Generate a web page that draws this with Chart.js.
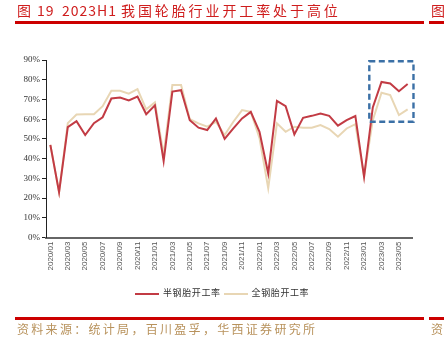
<!DOCTYPE html>
<html>
<head>
<meta charset="utf-8">
<script src="https://cdn.jsdelivr.net/npm/chart.js@4"></script>
<style>
  html, body { margin: 0; padding: 0; background: #fff; }
  #page { position: relative; width: 444px; height: 349px; overflow: hidden; font-family: "Noto Sans CJK SC", sans-serif; }
  #chart { position: absolute; left: 0; top: 0; }
  .title { position: absolute; top: 1px; color: #cf1d1d; font-size: 14px; line-height: 18px; white-space: nowrap; }
  .title span { position: absolute; top: 0; }
  .rule { position: absolute; height: 2.5px; background: #cc0000; }
  .source { position: absolute; top: 321px; color: #b8925c; font-size: 12px; line-height: 16px; letter-spacing: 2.3px; white-space: nowrap; }
  #legend { position: absolute; top: 286px; left: 135px; font-size: 9px; line-height: 14px; color: #333; white-space: nowrap; letter-spacing: 0.6px; }
  #legend span.swatch { display: inline-block; width: 24px; height: 2px; vertical-align: middle; margin-right: 4px; }
  #legend span.item { margin-right: 3px; }
</style>
</head>
<body>
<div id="page">
  <canvas id="chart" width="444" height="349"></canvas>
  <div class="title" style="left:0">
    <span style="left:17px">图</span>
    <span style="left:37px; letter-spacing:1px">19</span>
    <span style="left:62px; letter-spacing:1px">2023H1</span>
    <span style="left:121px; letter-spacing:2.9px">我国轮胎行业开工率处于高位</span>
    <span style="left:431px">图</span>
  </div>
  <div class="rule" style="left:15px; width:409px; top:21px"></div>
  <div class="rule" style="left:429px; width:20px; top:21px"></div>
  <div id="legend"></div>
  <div class="rule" style="left:15px; width:409px; top:317px"></div>
  <div class="rule" style="left:429px; width:20px; top:317px"></div>
  <div class="source" style="left:17px">资料来源：统计局，百川盈孚，华西证券研究所</div>
  <div class="source" style="left:431px">资</div>
</div>
<script>
// months, 2020/01 - 2023/06
var months = [
  '2020/01','2020/02','2020/03','2020/04','2020/05','2020/06','2020/07','2020/08','2020/09','2020/10','2020/11','2020/12',
  '2021/01','2021/02','2021/03','2021/04','2021/05','2021/06','2021/07','2021/08','2021/09','2021/10','2021/11','2021/12',
  '2022/01','2022/02','2022/03','2022/04','2022/05','2022/06','2022/07','2022/08','2022/09','2022/10','2022/11','2022/12',
  '2023/01','2023/02','2023/03','2023/04','2023/05','2023/06'
];

// 半钢胎开工率 (%)
var semiSteel = [
  47, 23, 56, 59, 52, 58, 61, 70.5, 71, 69.5, 71.5, 62.5,
  67, 38.8, 74, 74.7, 59.5, 55.7, 54.5, 60.4, 50, 55.3, 60.4, 63.7,
  53.6, 32.5, 69.3, 66.6, 52.3, 60.7, 61.7, 62.9, 61.7, 56.7, 59.5, 61.6,
  30.8, 66, 78.9, 78.1, 74.2, 77.8
];

// 全钢胎开工率 (%)
var allSteel = [
  47, 23, 58, 62.4, 62.5, 62.5, 66.6, 74.4, 74.4, 72.9, 75.2, 65,
  68.5, 42, 77.3, 77.3, 60, 57.9, 56.2, 58.7, 52, 58.7, 64.6, 63.7,
  50.4, 25, 57.9, 53.6, 56.2, 55.7, 55.7, 57, 55, 51.1, 55.3, 57.5,
  31, 59.5, 73.4, 72.2, 62.1, 65
];

var seriesNames = ['半钢胎开工率', '全钢胎开工率'];
var seriesColors = ['#c23b44', '#e8d6b4'];

// y ticks 0% - 90%
var yMin = 0, yMax = 90, yStep = 10;

// highlighted window: 2023H1
var boxFrom = '2023/02', boxTo = '2023/06', boxLow = 58.7, boxHigh = 89.4;

// dashed frame around the 2023H1 segment
var highlightBox = {
  id: 'highlightBox',
  afterDatasetsDraw: function (chart) {
    var x = chart.scales.x, y = chart.scales.y;
    var step = x.getPixelForValue(1) - x.getPixelForValue(0);
    var left = x.getPixelForValue(months.indexOf(boxFrom)) - 0.4 * step;
    var right = x.getPixelForValue(months.indexOf(boxTo)) + 0.67 * step;
    var top = y.getPixelForValue(boxHigh);
    var bottom = y.getPixelForValue(boxLow);
    var ctx = chart.ctx;
    ctx.save();
    ctx.strokeStyle = '#3b70a6';
    ctx.lineWidth = 2.4;
    ctx.setLineDash([6, 3.5]);
    ctx.strokeRect(left, top, right - left, bottom - top);
    ctx.restore();
  }
};

var chart = new Chart(document.getElementById('chart'), {
  type: 'line',
  data: {
    labels: months,
    datasets: [
      { label: seriesNames[0], data: semiSteel, borderColor: seriesColors[0], backgroundColor: seriesColors[0], borderWidth: 2, pointRadius: 0, tension: 0, fill: false },
      { label: seriesNames[1], data: allSteel, borderColor: seriesColors[1], backgroundColor: seriesColors[1], borderWidth: 2, pointRadius: 0, tension: 0, fill: false }
    ]
  },
  options: {
    responsive: false,
    animation: false,
    layout: { padding: { left: 0, right: 32, top: 60, bottom: 0 } },
    plugins: { legend: { display: false }, tooltip: { enabled: false } },
    scales: {
      x: {
        offset: true,
        grid: { display: false, drawTicks: false },
        border: { display: true, color: '#666', width: 2 },
        ticks: {
          autoSkip: false,
          minRotation: 90,
          maxRotation: 90,
          padding: 4,
          color: '#555',
          font: { family: 'Liberation Sans', size: 8 },
          callback: function (v, i) { return i % 2 === 0 ? months[i] : ''; }
        },
        afterFit: function (s) { s.height = 111.4; }
      },
      y: {
        min: yMin,
        max: yMax,
        grid: { display: true, drawOnChartArea: false, drawTicks: true, tickLength: 4, color: '#222' },
        border: { display: true, color: '#222', width: 1 },
        ticks: {
          stepSize: yStep,
          padding: 2,
          color: '#333',
          font: { family: 'Liberation Serif', size: 9 },
          callback: function (v) { return v + '%'; }
        },
        afterFit: function (s) { s.width = 46; }
      }
    }
  },
  plugins: [highlightBox]
});

// legend under the plot
var legend = document.getElementById('legend');
seriesNames.forEach(function (name, i) {
  legend.innerHTML += '<span class="item"><span class="swatch" style="background:' + seriesColors[i] + '"></span>' + name + '</span>';
});
</script>
</body>
</html>
